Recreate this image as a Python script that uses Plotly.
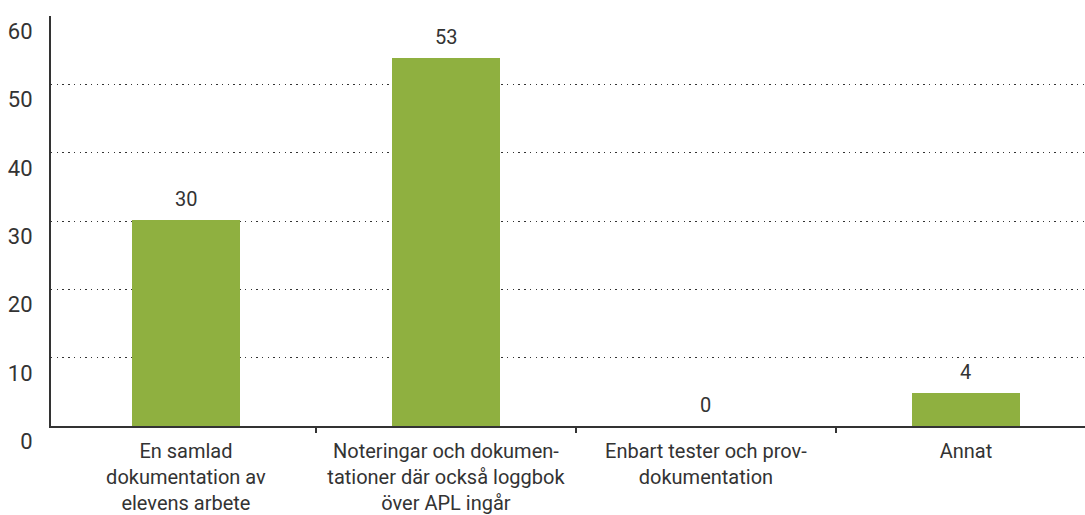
import plotly.graph_objects as go

categories = [
    "En samlad<br>dokumentation av<br>elevens arbete",
    "Noteringar och dokumen-<br>tationer där också loggbok<br>över APL ingår",
    "Enbart tester och prov-<br>dokumentation",
    "Annat",
]
values = [30.1, 53.9, 0, 4.9]
value_labels = ["30", "53", "0", "4"]
y_ticks = [0, 10, 20, 30, 40, 50, 60]

font_family = "Roboto, DejaVu Sans, sans-serif"
text_color = "#333333"
bar_color = "#8fb040"

xs = list(range(len(categories)))

fig = go.Figure()
fig.add_trace(go.Bar(x=xs, y=values, width=0.415, marker_color=bar_color,
                     marker_line_width=0, hoverinfo="skip"))

# value labels above the bars
for x, v, lab in zip(xs, values, value_labels):
    fig.add_annotation(x=x, y=v, text=lab, showarrow=False, yanchor="bottom",
                       yshift=7, font=dict(size=20, color=text_color, family=font_family))

fig.update_layout(
    width=1085, height=515,
    margin=dict(l=51, r=0, t=16, b=89, autoexpand=False),
    paper_bgcolor="white", plot_bgcolor="white",
    showlegend=False,
    font=dict(family=font_family, size=20, color=text_color),
    bargap=0,
)
fig.update_xaxes(
    range=[-0.519, 3.458], automargin=False,
    tickvals=xs, ticktext=categories,
    ticks="", showgrid=False, zeroline=False,
    showline=True, linecolor="#333333", linewidth=2,
    ticklabelstandoff=6,
    minor=dict(tickvals=[0.5, 1.5, 2.5], ticks="outside", ticklen=5,
               tickcolor="#333333", tickwidth=1.5, showgrid=False),
    tickfont=dict(size=20, color=text_color),
)
fig.update_yaxes(
    range=[0, 60], tickvals=y_ticks, automargin=False,
    showgrid=True, gridcolor="#333333", gridwidth=1.4, griddash="1.4px,4.3px",
    zeroline=False,
    showline=True, linecolor="#333333", linewidth=2,
    ticks="", ticklabelposition="outside bottom", ticklabelstandoff=12,
    tickfont=dict(size=22, color=text_color),
)

# page body has a default margin; remove it so the chart sits at 0,0
fig.write_html("out.html", config={"displayModeBar": False},
               post_script="document.body.style.margin='0';document.body.style.overflow='hidden';")
